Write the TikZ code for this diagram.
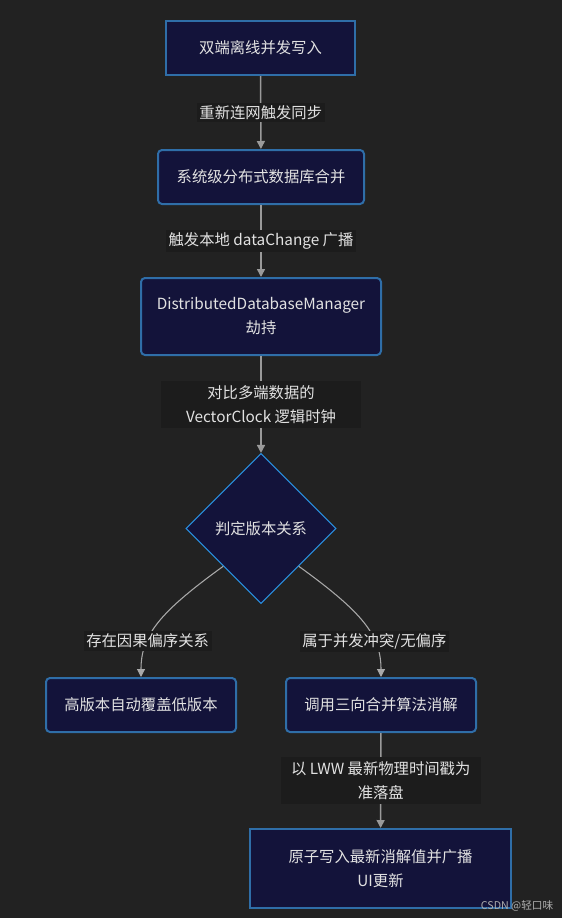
\documentclass[tikz,border=0pt]{standalone}
\usepackage{fontspec}
\setmainfont{Noto Sans CJK SC}
\usepackage{tikz}
\usetikzlibrary{arrows.meta,shapes.geometric}
\definecolor{bgc}{HTML}{222222}
\definecolor{lblc}{HTML}{1C1C1C}
\definecolor{boxc}{HTML}{13133A}
\definecolor{edgec}{HTML}{2F6EA8}
\definecolor{diac}{HTML}{2A90E0}
\definecolor{linec}{HTML}{9A9A9A}
\definecolor{txtc}{HTML}{E2E2E2}
\def\px{0.75pt}
\tikzset{
  box/.style={draw=edgec,line width=1.5pt,fill=boxc,text=txtc,align=center,inner sep=0pt,rounded corners=3pt},
  sqbox/.style={box,sharp corners},
  choice/.style={diamond,draw=diac,line width=0.8pt,fill=boxc,text=txtc,inner sep=0pt,aspect=1},
  elabel/.style={fill=lblc,text=txtc,align=center,inner sep=2pt},
  widelabel/.style={elabel,minimum width=200*\px,minimum height=47*\px},
  flow/.style={draw=linec,line width=1.1pt,-{Triangle[length=6pt,width=6pt]}},
  side/.style={draw=linec!85!white,line width=0.8pt,-{Triangle[length=6pt,width=6pt]}}
}

\begin{document}
\begin{tikzpicture}[x=0.75pt,y=-0.75pt,font=\fontsize{11.5pt}{18pt}\selectfont]
  \fill[bgc] (0,0) rectangle (562,918);
  \node[sqbox,minimum width=189*\px,minimum height=54*\px] (w) at (260.5,48) {双端离线并发写入};
  \node[box,minimum width=206*\px,minimum height=54*\px] (m) at (261,177) {系统级分布式数据库合并};
  \node[box,minimum width=240*\px,minimum height=77*\px] (h) at (261,316.5) {DistributedDatabaseManager\\劫持};
  \node[choice,minimum width=150*\px,minimum height=150*\px] (d) at (261,528.5) {判定版本关系};
  \node[box,minimum width=190*\px,minimum height=54*\px] (o) at (141,705) {高版本自动覆盖低版本};
  \node[box,minimum width=190*\px,minimum height=54*\px] (t) at (381,705) {调用三向合并算法消解};
  \node[sqbox,minimum width=261*\px,minimum height=79*\px] (u) at (380.5,868.5) {原子写入最新消解值并广播\\UI更新};

  \draw[flow] (w) -- node[elabel] {重新连网触发同步} (m);
  \draw[flow] (m) -- node[elabel] {触发本地 dataChange 广播} (h);
  \draw[flow] (h) -- node[widelabel] {对比多端数据的\\VectorClock 逻辑时钟} (d);
  \draw[side] (d.south west) .. controls (160,612) and (141,635) .. node[elabel,pos=0.68] {存在因果偏序关系} (o.north);
  \draw[side] (d.south east) .. controls (362,612) and (381,635) .. node[elabel,pos=0.68] {属于并发冲突/无偏序} (t.north);
  \draw[flow] (t) -- node[widelabel] {以 LWW 最新物理时间戳为\\准落盘} (u);

  \node[text=linec!80!white,font=\fontsize{8pt}{9pt}\selectfont,anchor=east] (cs) at (558,906) {CSDN @轻口味};
\end{tikzpicture}
\end{document}
